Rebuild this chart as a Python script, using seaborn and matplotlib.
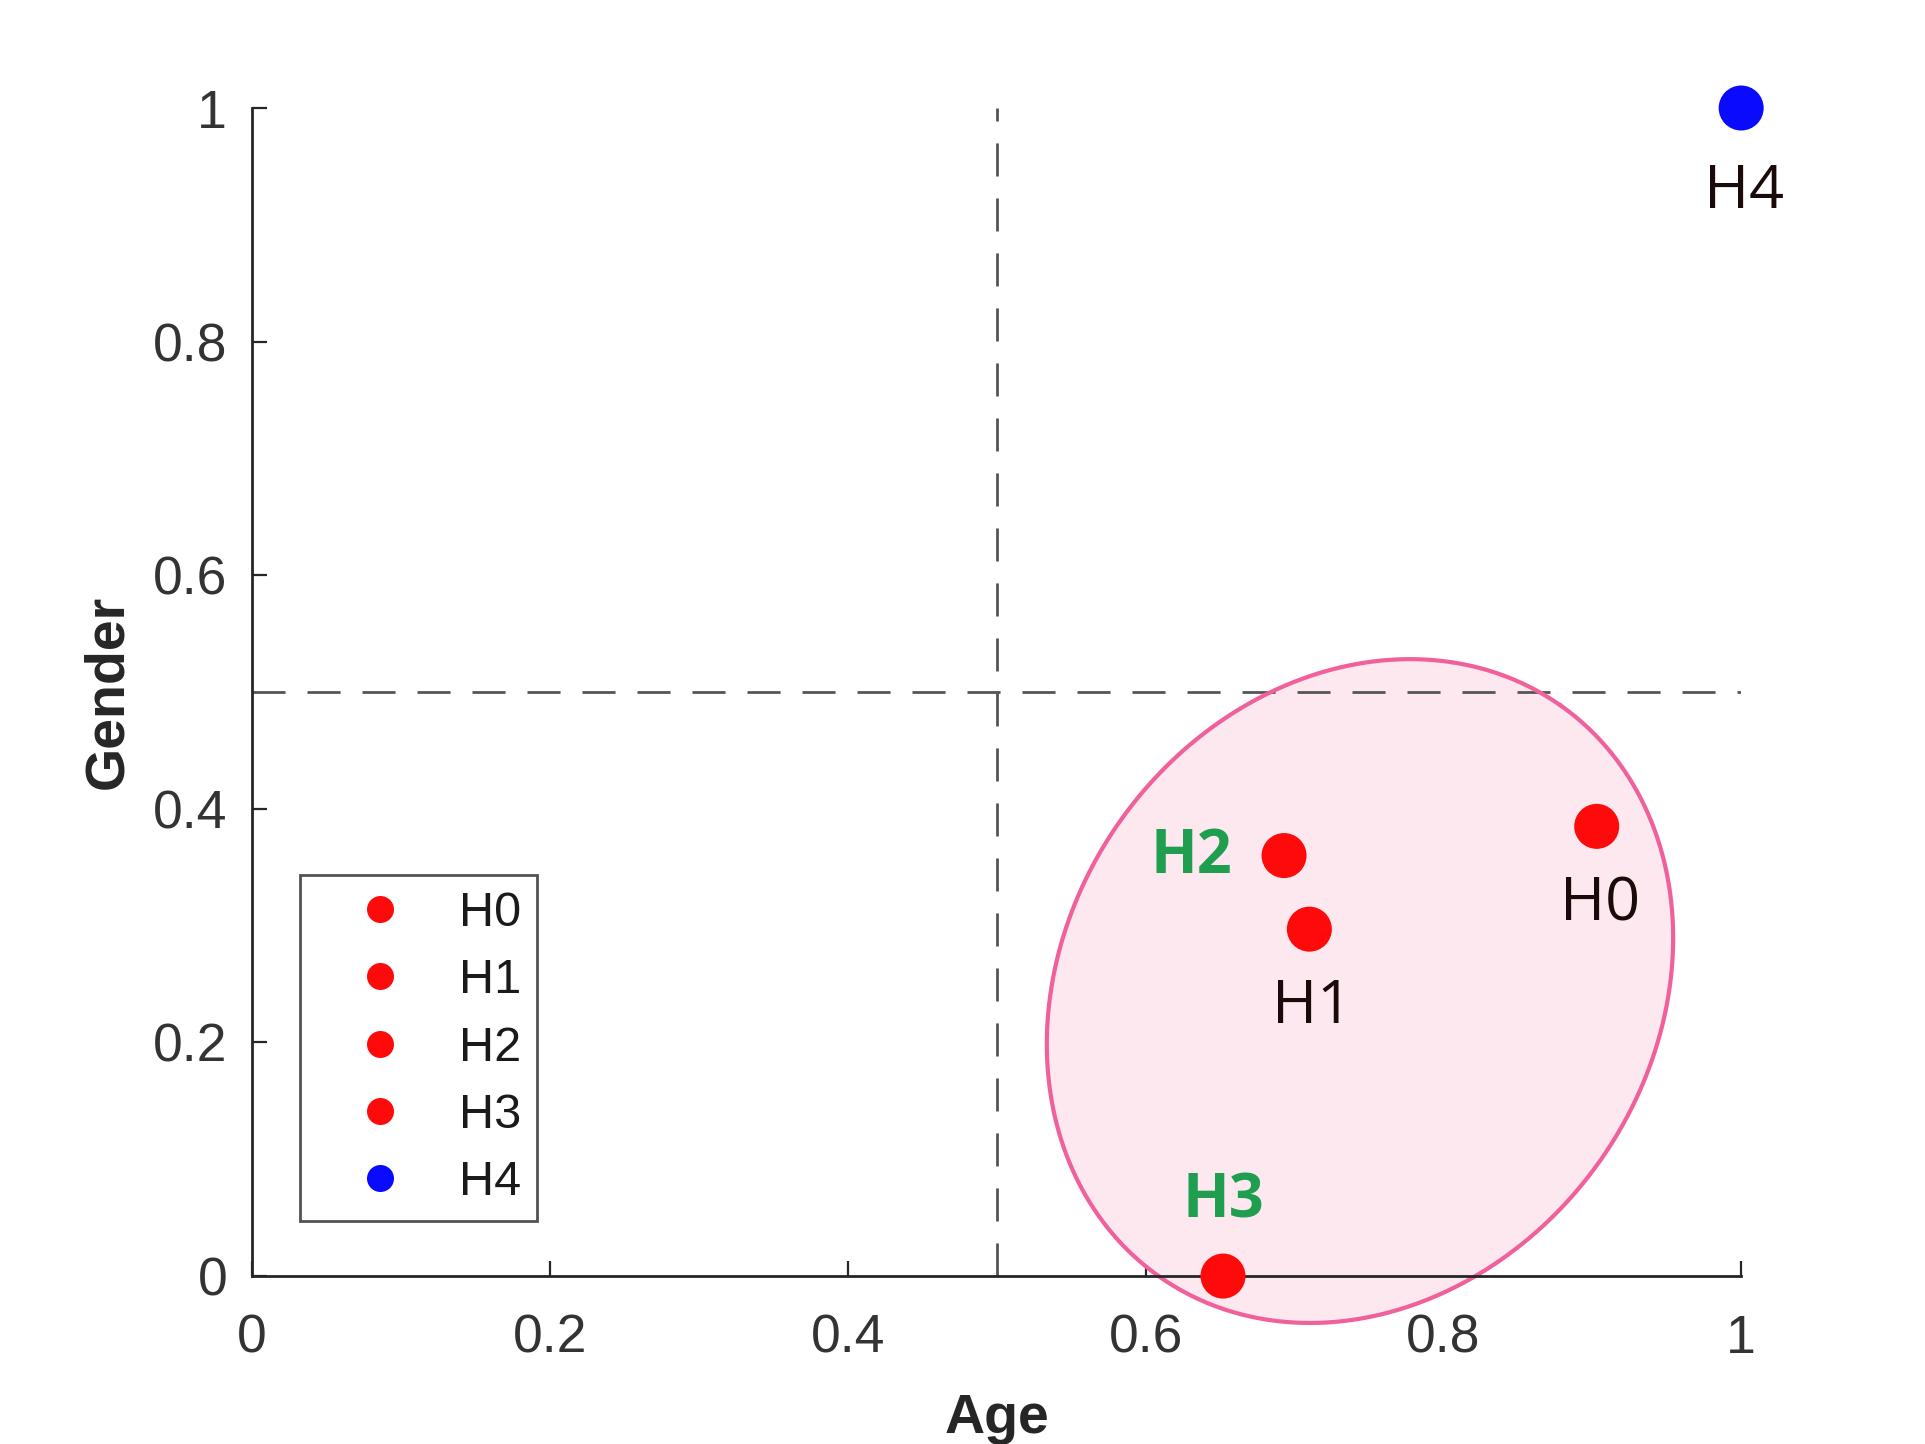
import numpy as np
import pandas as pd
import matplotlib
matplotlib.use("Agg")
import matplotlib.pyplot as plt
import seaborn as sns

# ---- data ----
names = ["H0", "H1", "H2", "H3", "H4"]
age = [0.903, 0.710, 0.693, 0.652, 1.0]
gender = [0.385, 0.297, 0.360, 0.0, 1.0]
point_colors = ["#ff0a0a", "#ff0a0a", "#ff0a0a", "#ff0a0a", "#0a0aff"]
highlight = ["H2", "H3"]
x_ticks = [0, 0.2, 0.4, 0.6, 0.8, 1]
y_ticks = [0, 0.2, 0.4, 0.6, 0.8, 1]
tick_labels = ["0", "0.2", "0.4", "0.6", "0.8", "1"]
threshold_age = 0.5
threshold_gender = 0.5
# cluster ellipse (center in data units, semi-axes in pixels, angle deg)
ell_center = (0.744, 0.244)
ell_semi_px = (349, 294)
ell_angle = 55

sns.set_theme(style="white")
plt.rcParams["font.family"] = ["Liberation Sans", "DejaVu Sans"]
ann_family = ["Open Sans", "Noto Sans", "DejaVu Sans"]

df = pd.DataFrame({"Age": age, "Gender": gender, "name": names})

fig = plt.figure(figsize=(19.25, 14.44), dpi=100)
ax = fig.add_axes([0.131, 0.1163, 0.7735, 0.8089])
ax.set_xlim(0, 1)
ax.set_ylim(0, 1)

# ellipse
sx = ax.bbox.width / 1.0
sy = ax.bbox.height / 1.0
t = np.linspace(0, 2 * np.pi, 500)
th = np.deg2rad(ell_angle)
a, b = ell_semi_px
ex = ell_center[0] + (a * np.cos(th) * np.cos(t) - b * np.sin(th) * np.sin(t)) / sx
ey = ell_center[1] + (a * np.sin(th) * np.cos(t) + b * np.cos(th) * np.sin(t)) / sy
ax.fill(ex, ey, facecolor="#fde8f0", edgecolor="none", zorder=1, clip_on=False)

# threshold lines
lw = 2.0
ax.plot([0, 1], [threshold_gender, threshold_gender], color="#555555", lw=lw,
        linestyle=(0, (11.9, 7.9)), zorder=2)
ax.plot([threshold_age, threshold_age], [0, 1], color="#555555", lw=lw,
        linestyle=(0, (11.9, 7.9)), zorder=2)
ax.plot(ex, ey, color="#f0609a", lw=3.0, zorder=2.5, clip_on=False)

palette = dict(zip(names, point_colors))
sns.scatterplot(data=df, x="Age", y="Gender", hue="name", palette=palette,
                s=1050, edgecolor="none", linewidth=0, ax=ax, zorder=5,
                clip_on=False, legend=True)

# annotations
for n, xv, yv in zip(names, age, gender):
    if n in highlight:
        if n == "H2":
            ax.annotate(n, (xv, yv), xytext=(-52, -2), textcoords="offset pixels",
                        ha="right", va="center", fontsize=44, fontweight="bold",
                        color="#1f9e50", family=ann_family, zorder=6)
        else:
            ax.annotate(n, (xv, yv), xytext=(0, 74), textcoords="offset pixels",
                        ha="center", va="center", fontsize=44, fontweight="bold",
                        color="#1f9e50", family=ann_family, zorder=6)
    else:
        dy = -84 if n == "H4" else -78
        ax.annotate(n, (xv, yv), xytext=(3, dy), textcoords="offset pixels",
                    ha="center", va="center", fontsize=44, color="#1a0a0a",
                    family=ann_family, zorder=6, annotation_clip=False)

# axes styling
for side in ["top", "right"]:
    ax.spines[side].set_visible(False)
for side in ["left", "bottom"]:
    ax.spines[side].set_color("#262626")
    ax.spines[side].set_linewidth(2.0)
ax.set_xticks(x_ticks)
ax.set_yticks(y_ticks)
ax.set_xticklabels(tick_labels)
ax.set_yticklabels(tick_labels)
ax.tick_params(axis="both", direction="in", length=10.8, width=1.6,
               colors="#262626", labelsize=38.5, labelcolor="#333333",
               bottom=True, left=True)
ax.tick_params(axis="x", pad=27)
ax.tick_params(axis="y", pad=18)
ax.set_xlabel("Age", fontsize=40, fontweight="bold", color="#262626", va="center")
ax.set_ylabel("Gender", fontsize=40, fontweight="bold", color="#262626",
              va="center", ha="center")
ax.xaxis.set_label_coords(0.5, -0.1224)
ax.yaxis.set_label_coords(-0.0969, 0.5)

# legend
handles, labels = ax.get_legend_handles_labels()
leg = ax.legend(handles, labels, loc="upper left", bbox_to_anchor=(0.032, 0.343),
                borderaxespad=0, frameon=True, fancybox=False, fontsize=35,
                markerscale=0.6, labelspacing=0.46, handletextpad=0.3,
                borderpad=0.32, handlelength=2.65, title=None)
leg.get_frame().set_edgecolor("#262626")
leg.get_frame().set_linewidth(2.0)
for txt in leg.get_texts():
    txt.set_color("#1a1a1a")

fig.savefig("out.png", dpi=100, facecolor="white")
